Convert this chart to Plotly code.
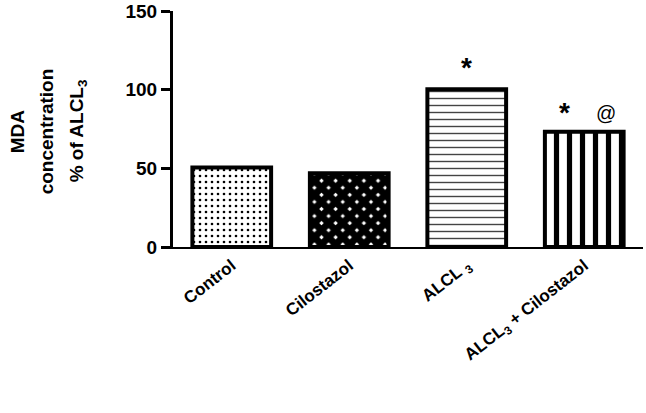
import plotly.graph_objects as go

categories = ["Control", "Cilostazol", "ALCL <sub>3</sub>", "ALCL<sub>3</sub> + Cilostazol"]
values = [50.5, 46.8, 100.3, 73.2]
y_ticks = [0, 50, 100, 150]
title_lines = ["MDA", "concentration", "% of ALCL<sub>3</sub>"]

patterns = [
    dict(shape=".", fgcolor="black", bgcolor="white", size=6, solidity=0.15, fgopacity=1),
    dict(shape="x", fgcolor="black", bgcolor="white", size=10, solidity=0.9, fgopacity=1),
    dict(shape="-", fgcolor="#444444", bgcolor="white", size=7, solidity=0.2, fgopacity=1),
    dict(shape="|", fgcolor="black", bgcolor="white", size=13, solidity=0.4, fgopacity=1),
]

fig = go.Figure()
for i, (c, v) in enumerate(zip(categories, values)):
    fig.add_trace(go.Bar(
        x=[i], y=[v], width=0.67,
        marker=dict(color="white", line=dict(color="black", width=4), pattern=patterns[i]),
        showlegend=False, hoverinfo="skip",
    ))

font_b = dict(family="Arial, Liberation Sans, sans-serif", color="black", weight="bold")

# significance marks
fig.add_annotation(x=2, y=values[2], text="*", showarrow=False, yanchor="bottom", yshift=4,
                   font=dict(family="Arial, Liberation Sans", size=28, color="black", weight="bold"))
fig.add_annotation(x=3, y=values[3], text="*", showarrow=False, yanchor="bottom", yshift=2, xshift=-20,
                   font=dict(family="Arial, Liberation Sans", size=28, color="black", weight="bold"))
fig.add_annotation(x=3, y=values[3], text="@", showarrow=False, yanchor="bottom", yshift=6, xshift=22,
                   font=dict(family="Arial, Liberation Sans", size=20, color="black"))

W, H = 646, 413
L, R, T, B = 173, 3, 11, 166
plot_w = W - L - R
for xpx, line in zip([17, 46, 78], title_lines):
    fig.add_annotation(xref="paper", yref="paper", x=(xpx - L) / plot_w, y=0.49,
                       xanchor="center", yanchor="middle", text=line, textangle=-90,
                       showarrow=False, font=dict(size=19, **font_b))

fig.update_layout(
    width=W, height=H,
    margin=dict(l=L, r=R, t=T, b=B, autoexpand=False),
    plot_bgcolor="white", paper_bgcolor="white",
    xaxis=dict(
        range=[-0.5, 3.5], tickmode="array", tickvals=list(range(len(categories))),
        ticktext=categories, tickangle=-38, ticks="", showline=True, linecolor="black",
        linewidth=2, showgrid=False, zeroline=False, automargin=False,
        tickfont=dict(size=17, **font_b),
    ),
    yaxis=dict(
        range=[0, 150], tickvals=y_ticks, ticks="outside", ticklen=9, tickwidth=3,
        tickcolor="black", showline=True, linecolor="black", linewidth=3, showgrid=False,
        zeroline=False, automargin=False, tickfont=dict(size=19, **font_b),
    ),
)

fig.write_html("out.html", config={"displayModeBar": False},
               post_script="document.body.style.margin='0';")
